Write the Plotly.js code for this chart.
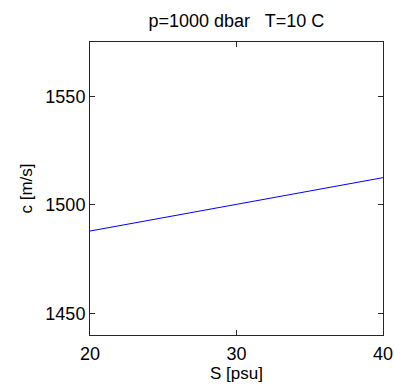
<!DOCTYPE html>
<html>
<head>
<meta charset="utf-8">
<script src="https://cdn.plot.ly/plotly-3.0.1.min.js"></script>
<style>
  html, body { margin: 0; padding: 0; background: #ffffff; }
  #plot { width: 394px; height: 391px; }
</style>
</head>
<body>
<div id="plot"></div>
<script>
// Sound speed vs salinity at fixed pressure and temperature
const salinity = [20, 25, 30, 35, 40];                    // S [psu]
const soundSpeed = [1487.9, 1494.0, 1500.2, 1506.3, 1512.5]; // c [m/s]
const xTicks = [20, 30, 40];
const yTicks = [1450, 1500, 1550];

const font = { family: 'Liberation Sans, Arial, sans-serif', color: '#000000' };
const axisCommon = {
  showgrid: false,
  zeroline: false,
  showline: true,
  mirror: 'ticks',
  linecolor: '#262626',
  linewidth: 1,
  ticks: 'inside',
  ticklen: 5,
  tickwidth: 1,
  tickcolor: '#262626',
  tickfont: { family: font.family, size: 18, color: '#000000' }
};

const trace = {
  x: salinity,
  y: soundSpeed,
  type: 'scatter',
  mode: 'lines',
  line: { color: '#0000ff', width: 1 },
  hoverinfo: 'skip'
};

const layout = {
  width: 394,
  height: 391,
  margin: { l: 90, r: 11, t: 42, b: 56 },
  paper_bgcolor: '#ffffff',
  plot_bgcolor: '#ffffff',
  showlegend: false,
  title: {
    text: 'p=1000 dbar   T=10 C',
    font: { family: font.family, size: 18, color: '#000000' },
    x: 0.6, xanchor: 'center',
    y: 0.946, yanchor: 'middle', yref: 'container'
  },
  xaxis: Object.assign({}, axisCommon, {
    range: [20, 40],
    tickvals: xTicks,
    ticktext: xTicks.map(String),
    ticklabelstandoff: 2,
    title: { text: 'S [psu]', font: { family: font.family, size: 17, color: '#000000' }, standoff: 2 }
  }),
  yaxis: Object.assign({}, axisCommon, {
    range: [1440, 1575],
    tickvals: yTicks,
    ticktext: yTicks.map(String),
    ticklabelstandoff: 0,
    title: { text: 'c [m/s]', font: { family: font.family, size: 17, color: '#000000' }, standoff: 8 }
  })
};

Plotly.newPlot('plot', [trace], layout, { staticPlot: true, displayModeBar: false });
</script>
</body>
</html>
